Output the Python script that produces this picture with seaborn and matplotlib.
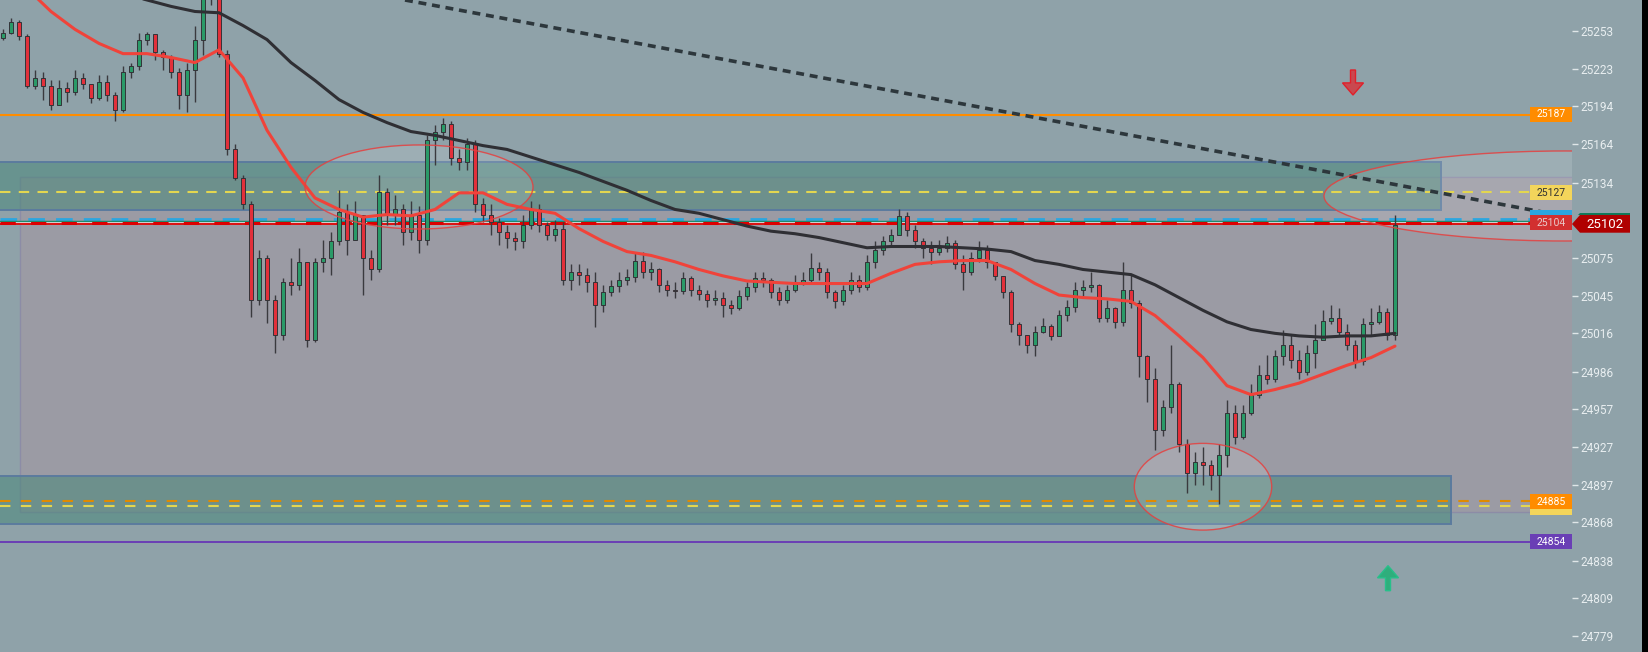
import numpy as np
import matplotlib
matplotlib.use("Agg")
import matplotlib.pyplot as plt
import seaborn as sns
from matplotlib.patches import Rectangle, Ellipse, FancyArrow, Polygon

# ---- candle data (one candle per bar slot) ----
first_open = 25247
closes = [
    25251, 25260, 25249, 25210, 25216, 25210, 25195, 25208, 25205, 25216,
    25211, 25200, 25213, 25203, 25191, 25221, 25225, 25246, 25250, 25236,
    25232, 25221, 25203, 25222, 25246, 25285, 25281, 25235, 25160, 25138,
    25117, 25042, 25075, 25042, 25015, 25056, 25054, 25072, 25011, 25072,
    25075, 25088, 25111, 25089, 25109, 25075, 25066, 25127, 25109, 25113,
    25095, 25109, 25089, 25167, 25174, 25180, 25153, 25150, 25164, 25117,
    25109, 25103, 25095, 25091, 25088, 25101, 25113, 25101, 25093, 25098,
    25058, 25064, 25062, 25056, 25038, 25048, 25053, 25058, 25060, 25073,
    25064, 25066, 25054, 25050, 25049, 25059, 25050, 25047, 25042, 25044,
    25038, 25036, 25045, 25052, 25059, 25058, 25048, 25042, 25050, 25056,
    25058, 25067, 25064, 25048, 25041, 25050, 25058, 25052, 25072, 25081,
    25088, 25093, 25108, 25097, 25088, 25083, 25080, 25083, 25087, 25070,
    25064, 25075, 25081, 25072, 25061, 25048, 25023, 25015, 25007, 25017,
    25022, 25014, 25030, 25037, 25050, 25052, 25054, 25028, 25036, 25025,
    25050, 25040, 24998, 24980, 24940, 24958, 24976, 24929, 24907, 24915,
    24913, 24905, 24921, 24954, 24935, 24954, 24968, 24983, 24980, 24998,
    25007, 24995, 24986, 25001, 25011, 25026, 25028, 25017, 25007, 24994,
    25023, 25025, 25033, 25015, 25101,
]
highs = [
    25254, 25263, 25261, 25250, 25222, 25221, 25214, 25214, 25213, 25222,
    25220, 25211, 25218, 25218, 25205, 25225, 25228, 25251, 25252, 25250,
    25238, 25234, 25224, 25228, 25257, 25293, 25297, 25285, 25238, 25164,
    25140, 25120, 25081, 25077, 25046, 25059, 25075, 25083, 25072, 25075,
    25089, 25095, 25128, 25117, 25120, 25101, 25081, 25140, 25130, 25124,
    25117, 25120, 25116, 25171, 25179, 25185, 25182, 25160, 25169, 25167,
    25122, 25117, 25106, 25101, 25095, 25109, 25120, 25117, 25103, 25105,
    25103, 25070, 25070, 25067, 25064, 25054, 25058, 25064, 25066, 25080,
    25080, 25072, 25067, 25058, 25056, 25064, 25061, 25054, 25050, 25050,
    25048, 25042, 25050, 25056, 25064, 25064, 25059, 25052, 25054, 25062,
    25064, 25079, 25072, 25067, 25050, 25054, 25064, 25062, 25077, 25088,
    25092, 25098, 25113, 25111, 25101, 25091, 25088, 25089, 25092, 25089,
    25077, 25080, 25088, 25085, 25072, 25061, 25050, 25025, 25015, 25022,
    25028, 25023, 25034, 25042, 25056, 25058, 25064, 25055, 25042, 25037,
    25072, 25062, 25042, 24999, 24989, 24964, 25007, 24978, 24933, 24923,
    24927, 24917, 24929, 24964, 24960, 24960, 24976, 24991, 24999, 25003,
    25019, 25015, 25003, 25007, 25023, 25034, 25038, 25036, 25023, 25011,
    25028, 25036, 25038, 25036, 25109,
]
lows = [
    25246, 25250, 25246, 25208, 25207, 25199, 25191, 25199, 25197, 25203,
    25207, 25196, 25199, 25198, 25182, 25189, 25216, 25222, 25242, 25230,
    25222, 25216, 25192, 25189, 25197, 25234, 25273, 25232, 25156, 25136,
    25113, 25029, 25038, 25024, 25001, 25011, 25046, 25050, 25005, 25009,
    25064, 25062, 25085, 25077, 25091, 25046, 25058, 25064, 25101, 25101,
    25085, 25089, 25079, 25085, 25148, 25167, 25148, 25144, 25144, 25111,
    25103, 25093, 25085, 25083, 25081, 25083, 25098, 25095, 25089, 25088,
    25054, 25050, 25054, 25048, 25021, 25033, 25045, 25048, 25054, 25056,
    25059, 25058, 25048, 25045, 25044, 25047, 25045, 25042, 25037, 25038,
    25029, 25031, 25034, 25042, 25048, 25052, 25044, 25038, 25040, 25048,
    25054, 25056, 25058, 25044, 25036, 25038, 25047, 25048, 25050, 25067,
    25077, 25084, 25093, 25092, 25083, 25075, 25070, 25077, 25080, 25066,
    25050, 25062, 25072, 25067, 25058, 25044, 25017, 25007, 25001, 24998,
    25016, 25011, 25016, 25026, 25033, 25045, 25048, 25025, 25025, 25020,
    25022, 25036, 24982, 24962, 24925, 24936, 24954, 24923, 24891, 24897,
    24897, 24893, 24882, 24911, 24929, 24933, 24952, 24965, 24976, 24978,
    24991, 24989, 24980, 24983, 24989, 25011, 25023, 25014, 25003, 24989,
    24991, 25015, 25023, 25011, 25011,
]

# moving averages, one value every 3rd candle
ma_fast = [
    25308, 25286, 25268, 25254, 25243, 25235, 25235, 25232, 25228, 25238,
    25216, 25175, 25146, 25122, 25113, 25107, 25109, 25108, 25113, 25126,
    25126, 25117, 25113, 25110, 25098, 25088, 25080, 25077, 25072, 25066,
    25061, 25057, 25056, 25055, 25055, 25055, 25055, 25063, 25070, 25072,
    25073, 25073, 25066, 25055, 25046, 25044, 25043, 25041, 25030, 25014,
    24997, 24975, 24968, 24972, 24977, 24984, 24991, 24997, 25006,
]
ma_slow = [
    25308, 25303, 25297, 25293, 25288, 25282, 25277, 25272, 25268, 25267,
    25257, 25246, 25228, 25214, 25199, 25189, 25181, 25174, 25171, 25167,
    25163, 25160, 25154, 25148, 25142, 25135, 25128, 25120, 25113, 25110,
    25105, 25100, 25096, 25094, 25091, 25087, 25083, 25084, 25084, 25084,
    25083, 25082, 25080, 25073, 25070, 25066, 25064, 25062, 25054, 25044,
    25034, 25025, 25019, 25016, 25014, 25013, 25014, 25014, 25016,
]

# price axis (25105 sits under the last-price tag)
price_ticks = [25253, 25223, 25194, 25164, 25134, 25075, 25045, 25016,
               24986, 24957, 24927, 24897, 24868, 24838, 24809, 24779]

# levels and zones
resistance = 25187
mid_level = 25127
last_price = 25102
level_25104 = 25104
support_a = 24885
support_b = 24881
support_low = 24853
upper_zone = (25112.8, 25149.9)
lower_zone = (24866.7, 24904.5)
range_box = (24876.4, 25138.2)
trend_start, trend_end = 25277, 25106.7

BG = '#8fa2a9'
sns.set_style('white')
plt.rcParams['font.family'] = ['Roboto', 'DejaVu Sans']

fig = plt.figure(figsize=(16.49, 6.52), dpi=100, facecolor=BG)
ax = fig.add_axes([0, 0, 1572 / 1649, 1])
ax.set_facecolor(BG)


def px(x):
    # screen pixel -> candle slot
    return (x - 3) / 8.0


ax.set_xlim(px(0), px(1572))
ax.set_ylim(24766.5, 25277.0)

# range box and zones
ax.add_patch(Rectangle((px(20), range_box[0]), px(1600) - px(20), range_box[1] - range_box[0],
                       fc='#9b9ba4', ec='#8c8ca6', lw=1.0, zorder=1))
for (lo, hi), right in [(upper_zone, 1441), (lower_zone, 1451)]:
    ax.add_patch(Rectangle((px(-5), lo), px(right) - px(-5), hi - lo,
                           fc='#48877a', alpha=0.55, ec='none', zorder=1.5))
    ax.add_patch(Rectangle((px(-5), lo), px(right) - px(-5), hi - lo,
                           fc='none', ec='#5b7b9e', lw=1.4, zorder=1.6))

# ellipses
for (cx, cy, w, hgt) in [(419, 187, 228, 84), (1565, 196, 482, 90), (1203, 486.7, 137.4, 86.7)]:
    cprice = 25277.04 - 0.7831 * cy
    ax.add_patch(Ellipse((px(cx), cprice), w / 8, hgt / 1.277, fc='white', alpha=0.13,
                         ec='none', zorder=1.7))
    ax.add_patch(Ellipse((px(cx), cprice), w / 8, hgt / 1.277, fc='none',
                         ec='#e5403f', lw=1.0, alpha=0.85, zorder=6))

# horizontal levels
ax.axhline(resistance, color='#ff8c00', lw=1.5, zorder=2)
ax.axhline(mid_level, color='#e3d650', lw=1.5, ls=(0, (5, 4)), zorder=2)
ax.axhline(level_25104 + 1.3, color='#2ba6e0', lw=2.0, ls=(0, (6, 4)), zorder=2)
ax.axhline(level_25104, color='#1b8a6a', lw=1.0, zorder=2)
ax.axhline(last_price + 0.6, color='#cfcfcf', lw=2.2, zorder=2)
ax.axhline(last_price + 0.6, color='#dd0000', lw=2.2, ls=(0, (5, 5)), zorder=2.1)
ax.axhline(last_price - 0.7, color='#dd0000', lw=1.3, zorder=2.2)
ax.axhline(support_a, color='#e08a00', lw=1.5, ls=(0, (5, 5)), zorder=2)
ax.axhline(support_b, color='#e3d650', lw=1.5, ls=(0, (5, 5)), zorder=2)
ax.axhline(support_low, color='#6a3fb5', lw=1.4, zorder=2)

# candles
o = np.array([first_open] + closes[:-1], dtype=float)
c = np.array(closes, dtype=float)
hi = np.maximum(np.array(highs, dtype=float), np.maximum(o, c))
lo_ = np.minimum(np.array(lows, dtype=float), np.minimum(o, c))
idx = np.arange(len(c))
up = c >= o
colors = np.where(up, '#2a9a68', '#e2303a')
ax.vlines(idx, lo_, hi, color='#3a3a3e', lw=1.0, zorder=3)
body_h = np.maximum(np.abs(c - o), 0.9)
ax.bar(idx, body_h, bottom=np.minimum(o, c), width=0.52, color=colors,
       edgecolor='#333338', linewidth=0.7, zorder=4)

# moving averages
ma_idx = np.arange(0, len(c), 3)
sns.lineplot(x=ma_idx, y=ma_slow, ax=ax, color='#2f2f34', lw=2.2, zorder=5)
sns.lineplot(x=ma_idx, y=ma_fast, ax=ax, color='#f0433a', lw=2.2, zorder=5)

# trend line
ax.plot([px(405), px(1572)], [trend_start, trend_end], color='#2d373c', lw=2.6,
        ls=(0, (2.2, 1.6)), zorder=5)

# arrows
ax.add_patch(FancyArrow(px(1353), 25222.2, 0, -19.6, width=5 / 8, head_width=21 / 8,
                        head_length=9.5, length_includes_head=True,
                        fc='#c9484f', ec='#e0202a', lw=1.0, zorder=6))
ax.add_patch(FancyArrow(px(1388), 24814.5, 0, 19.6, width=5 / 8, head_width=21 / 8,
                        head_length=9.5, length_includes_head=True,
                        fc='#2fae7c', ec='#27c08a', lw=1.0, zorder=6))


def tag(y, text, fc, tc='white', hpx=15):
    hh = hpx / 1.277
    ax.add_patch(Rectangle((px(1530), y - hh / 2), px(1572) - px(1530), hh,
                           fc=fc, ec='none', zorder=8, clip_on=False))
    ax.text(px(1551), y, text, color=tc, ha='center', va='center', fontsize=7.5,
            zorder=9, clip_on=False)


tag(25187.5, '25187', '#ff8c00')
tag(25126.2, '25127', '#f3d55b', tc='#333333')
tag(25106.6, '', '#2ba6e0')
tag(25102.6, '25104', '#d23030', tc='#e9c9c9')
tag(24880.0, '', '#f3d55b')
tag(24884.2, '24885', '#ff8c00')
tag(24853.0, '24854', '#6a3fb5')

# last price tag outside the pane
top, bot, mid = 25108.7, 25094.8, 25101.6
ax.add_patch(Polygon([(px(1580), 25110.6), (px(1630), 25110.6), (px(1630), top), (px(1578), top)],
                     closed=True, fc='#0f7a5a', ec='none', zorder=10, clip_on=False))
ax.add_patch(Polygon([(px(1572), mid), (px(1580), top), (px(1630), top), (px(1630), bot), (px(1580), bot)],
                     closed=True, fc='#b00000', ec='none', zorder=10, clip_on=False))
ax.text(px(1605), mid, str(last_price), color='white', ha='center', va='center',
        fontsize=9.5, zorder=11, clip_on=False)

# axis styling
ax.yaxis.tick_right()
ax.set_yticks(price_ticks)
ax.set_yticklabels([str(t) for t in price_ticks])
ax.tick_params(axis='y', direction='out', length=4.3, width=1.0, color='#dfe6e8',
               labelcolor='#e8eef0', labelsize=8.5, pad=1.5, right=True, left=False)
ax.set_xticks([])
for s in ax.spines.values():
    s.set_visible(False)

fig.add_artist(Rectangle((1642 / 1649, 0), 7 / 1649, 1, transform=fig.transFigure,
                         fc='black', ec='none'))

fig.savefig('out.png', dpi=100, facecolor=BG)
